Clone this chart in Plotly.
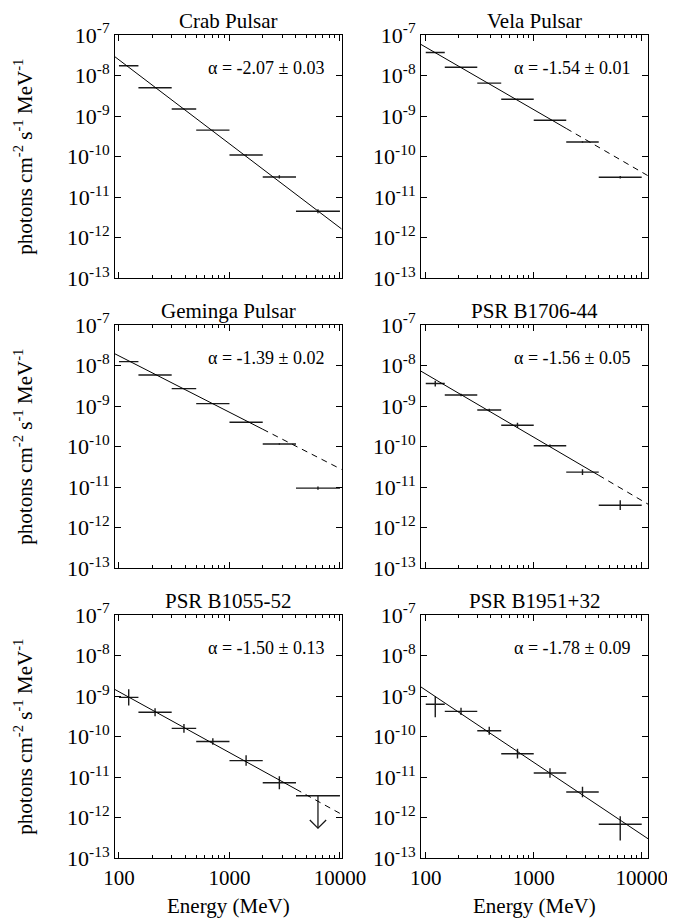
import numpy as np
import plotly.graph_objects as go

# ---------------- data ----------------
E_LO = [100, 150, 300, 500, 1000, 2000, 4000]
E_HI = [150, 300, 500, 1000, 2000, 4000, 10000]

names = ["Crab Pulsar", "Vela Pulsar", "Geminga Pulsar",
         "PSR B1706-44", "PSR B1055-52", "PSR B1951+32"]
alpha_labels = ["α = -2.07 ± 0.03", "α = -1.54 ± 0.01", "α = -1.39 ± 0.02",
                "α = -1.56 ± 0.05", "α = -1.50 ± 0.13", "α = -1.78 ± 0.09"]
alpha = [-2.07, -1.54, -1.39, -1.56, -1.50, -1.78]
norm_100MeV = [2.44e-8, 5.0e-8, 1.73e-8, 6.2e-9, 1.28e-9, 1.4e-9]
fit_solid_until = [None, 2000, 2000, 4000, 4000, None]

crab_flux = [1.75e-8, 5.0e-9, 1.5e-9, 4.5e-10, 1.1e-10, 3.15e-11, 4.5e-12]
crab_err_up = [0.01, 0.01, 0.01, 0.01, 0.02, 0.04, 0.05]
crab_err_dn = [0.01, 0.01, 0.01, 0.01, 0.02, 0.04, 0.05]

vela_flux = [3.7e-8, 1.6e-8, 6.5e-9, 2.6e-9, 7.9e-10, 2.3e-10, 3.1e-11]
vela_err_up = [0.005, 0.005, 0.005, 0.01, 0.01, 0.02, 0.03]
vela_err_dn = [0.005, 0.005, 0.005, 0.01, 0.01, 0.02, 0.03]

geminga_flux = [1.25e-8, 5.85e-9, 2.7e-9, 1.15e-9, 4.0e-10, 1.16e-10, 9.5e-12]
geminga_err_up = [0.005, 0.005, 0.005, 0.01, 0.01, 0.02, 0.04]
geminga_err_dn = [0.005, 0.005, 0.005, 0.01, 0.01, 0.02, 0.04]

b1706_flux = [3.6e-9, 1.88e-9, 8.0e-10, 3.36e-10, 1.05e-10, 2.36e-11, 3.6e-12]
b1706_err_up = [0.07, 0.03, 0.03, 0.066, 0.03, 0.07, 0.12]
b1706_err_dn = [0.07, 0.03, 0.03, 0.066, 0.03, 0.07, 0.12]

b1055_flux = [9.3e-10, 4.0e-10, 1.6e-10, 7.6e-11, 2.57e-11, 7.3e-12, 3.5e-12]
b1055_err_up = [0.2, 0.1, 0.11, 0.08, 0.13, 0.16, 0.0]
b1055_err_dn = [0.2, 0.1, 0.11, 0.08, 0.13, 0.16, 0.0]
b1055_upper_limit = [False, False, False, False, False, False, True]

b1951_flux = [6.3e-10, 4.2e-10, 1.4e-10, 3.8e-11, 1.27e-11, 4.3e-12, 6.9e-13]
b1951_err_up = [0.2, 0.09, 0.1, 0.12, 0.115, 0.13, 0.2]
b1951_err_dn = [0.32, 0.09, 0.1, 0.12, 0.115, 0.13, 0.4]

fluxes = [crab_flux, vela_flux, geminga_flux, b1706_flux, b1055_flux, b1951_flux]
errs_up = [crab_err_up, vela_err_up, geminga_err_up, b1706_err_up, b1055_err_up, b1951_err_up]
errs_dn = [crab_err_dn, vela_err_dn, geminga_err_dn, b1706_err_dn, b1055_err_dn, b1951_err_dn]
upper_limits = [[False] * 7, [False] * 7, [False] * 7, [False] * 7, b1055_upper_limit, [False] * 7]

x_tickvals = [100, 1000, 10000]
x_ticktext = ["100", "1000", "10000"]
x_minor = [200, 300, 400, 500, 600, 700, 800, 900,
           2000, 3000, 4000, 5000, 6000, 7000, 8000, 9000]
y_exps = [-13, -12, -11, -10, -9, -8, -7]

# ---------------- style / layout ----------------
FONT = "Liberation Serif, Times New Roman, serif"
OFF = 8                      # page body margin offset
W, H = 675 - OFF, 921 - OFF


def px_x(v):
    return (v - OFF) / W


def px_y(v):
    return 1 - (v - OFF) / H


XDOM = [[px_x(115), px_x(341.5)], [px_x(421), px_x(648.3)]]
XRANGE = [[1.964, 4.014], [1.956, 4.061]]
YDOM = [[px_y(278.3), px_y(35)], [px_y(568.3), px_y(325)], [px_y(858.3), px_y(615)]]
ARROW_LEN_DEX = 0.8
ARROW_HEAD_DEX_Y = 0.2
ARROW_HEAD_DEX_X = 0.074
E_MIN_LINE, E_MAX_LINE = 80, 12000
INK = "#1a1a1a"


def L(a):
    return [float(v) for v in a]


fig = go.Figure()
annotations = []
layout = {}

E_mid = [float(np.sqrt(a * b)) for a, b in zip(E_LO, E_HI)]

for k in range(6):
    row, col = k // 2, k % 2
    n = k + 1
    xa = "x" if n == 1 else f"x{n}"
    ya = "y" if n == 1 else f"y{n}"
    xkey = "xaxis" if n == 1 else f"xaxis{n}"
    ykey = "yaxis" if n == 1 else f"yaxis{n}"

    flux = np.array(fluxes[k])
    up = np.array(errs_up[k])
    dn = np.array(errs_dn[k])
    ul = np.array(upper_limits[k])
    xm = np.array(E_mid)
    lo = np.array(E_LO, dtype=float)
    hi = np.array(E_HI, dtype=float)

    det = ~ul
    fig.add_trace(go.Scatter(
        x=L(xm[det]), y=L(flux[det]), mode="markers", xaxis=xa, yaxis=ya,
        marker=dict(size=1, color="black", opacity=0),
        error_x=dict(type="data", symmetric=False, array=L((hi - xm)[det]),
                     arrayminus=L((xm - lo)[det]), width=0, thickness=1.4, color=INK),
        error_y=dict(type="data", symmetric=False, array=L((flux * (10 ** up - 1))[det]),
                     arrayminus=L((flux * (1 - 10 ** (-dn)))[det]), width=0, thickness=1.4,
                     color=INK),
        showlegend=False, hoverinfo="skip"))

    if ul.any():
        fig.add_trace(go.Scatter(
            x=L(xm[ul]), y=L(flux[ul]), mode="markers", xaxis=xa, yaxis=ya,
            marker=dict(size=1, color="black", opacity=0),
            error_x=dict(type="data", symmetric=False, array=L((hi - xm)[ul]),
                         arrayminus=L((xm - lo)[ul]), width=0, thickness=1.4, color=INK),
            showlegend=False, hoverinfo="skip"))
        for xv, yv in zip(xm[ul], flux[ul]):
            tip = yv * 10 ** (-ARROW_LEN_DEX)
            arm_y = tip * 10 ** ARROW_HEAD_DEX_Y
            fig.add_trace(go.Scatter(
                x=[float(xv), float(xv), None, float(xv * 10 ** (-ARROW_HEAD_DEX_X)), float(xv),
                   float(xv * 10 ** ARROW_HEAD_DEX_X)],
                y=[float(yv), float(tip), None, float(arm_y), float(tip), float(arm_y)],
                mode="lines", xaxis=xa, yaxis=ya,
                line=dict(color=INK, width=1.3),
                showlegend=False, hoverinfo="skip"))

    def pl(E):
        return L(norm_100MeV[k] * (np.asarray(E, dtype=float) / 100.0) ** alpha[k])
    brk = fit_solid_until[k]
    if brk is None:
        xs = [E_MIN_LINE, E_MAX_LINE]
        fig.add_trace(go.Scatter(x=xs, y=pl(xs), mode="lines", xaxis=xa, yaxis=ya,
                                 line=dict(color="black", width=1),
                                 showlegend=False, hoverinfo="skip"))
    else:
        xs = [E_MIN_LINE, brk]
        fig.add_trace(go.Scatter(x=xs, y=pl(xs), mode="lines", xaxis=xa, yaxis=ya,
                                 line=dict(color="black", width=1),
                                 showlegend=False, hoverinfo="skip"))
        xs2 = [brk, E_MAX_LINE]
        fig.add_trace(go.Scatter(x=xs2, y=pl(xs2), mode="lines", xaxis=xa, yaxis=ya,
                                 line=dict(color="black", width=1, dash="6px,5px"),
                                 showlegend=False, hoverinfo="skip"))

    bottom = (row == 2)
    layout[xkey] = dict(
        type="log", domain=XDOM[col], range=XRANGE[col], anchor=ya, automargin=False,
        showline=True, linecolor="black", linewidth=1, mirror="ticks",
        ticks="inside", ticklen=6, tickwidth=1, tickcolor="black",
        tickmode="array", tickvals=x_tickvals, ticktext=x_ticktext,
        showticklabels=bottom, showgrid=False, zeroline=False,
        tickfont=dict(family=FONT, size=21, color="black"),
        minor=dict(tickmode="array", tickvals=x_minor, ticks="inside", ticklen=3,
                   tickwidth=1, tickcolor="black", showgrid=False),
    )
    layout[ykey] = dict(
        type="log", domain=YDOM[row], range=[-13, -7], anchor=xa, automargin=False,
        showline=True, linecolor="black", linewidth=1, mirror="ticks",
        ticks="inside", ticklen=6, tickwidth=1, tickcolor="black",
        tickmode="array", tickvals=[10.0 ** e for e in y_exps],
        ticktext=[f"10<sup>{e}</sup>" for e in y_exps],
        showgrid=False, zeroline=False,
        tickfont=dict(family=FONT, size=22, color="black"),
    )

    annotations.append(dict(
        text=names[k], xref=f"{xa} domain", yref=f"{ya} domain", x=0.5, y=1.0,
        xanchor="center", yanchor="bottom", showarrow=False, yshift=0,
        font=dict(family=FONT, size=21, color="black")))
    annotations.append(dict(
        text=alpha_labels[k], xref=f"{xa} domain", yref=f"{ya} domain", x=0.93, y=0.865,
        xanchor="right", yanchor="middle", showarrow=False,
        font=dict(family=FONT, size=18, color="black")))

    if col == 0:
        annotations.append(dict(
            text="photons cm<sup>-2</sup> s<sup>-1</sup> MeV<sup>-1</sup>",
            xref="paper", yref="paper", x=px_x(24), y=(YDOM[row][0] + YDOM[row][1]) / 2,
            xanchor="center", yanchor="middle", textangle=-90, showarrow=False,
            font=dict(family=FONT, size=21, color="black")))
    if bottom:
        annotations.append(dict(
            text="Energy (MeV)", xref=f"{xa} domain", yref="paper",
            x=0.5, y=px_y(906), xanchor="center", yanchor="middle", showarrow=False,
            font=dict(family=FONT, size=21, color="black")))

fig.update_layout(
    template="none",
    width=W, height=H, margin=dict(l=0, r=0, t=0, b=0, pad=0, autoexpand=False),
    paper_bgcolor="white", plot_bgcolor="white",
    font=dict(family=FONT, color="black"),
    annotations=annotations, showlegend=False, **layout)

force_font = ("var s=document.createElement('style');"
              "s.textContent=\".js-plotly-plot svg text{font-family:'Liberation Serif','Times New Roman',serif !important;}\";"
              "document.head.appendChild(s);")
fig.write_html("out.html", post_script=force_font)
